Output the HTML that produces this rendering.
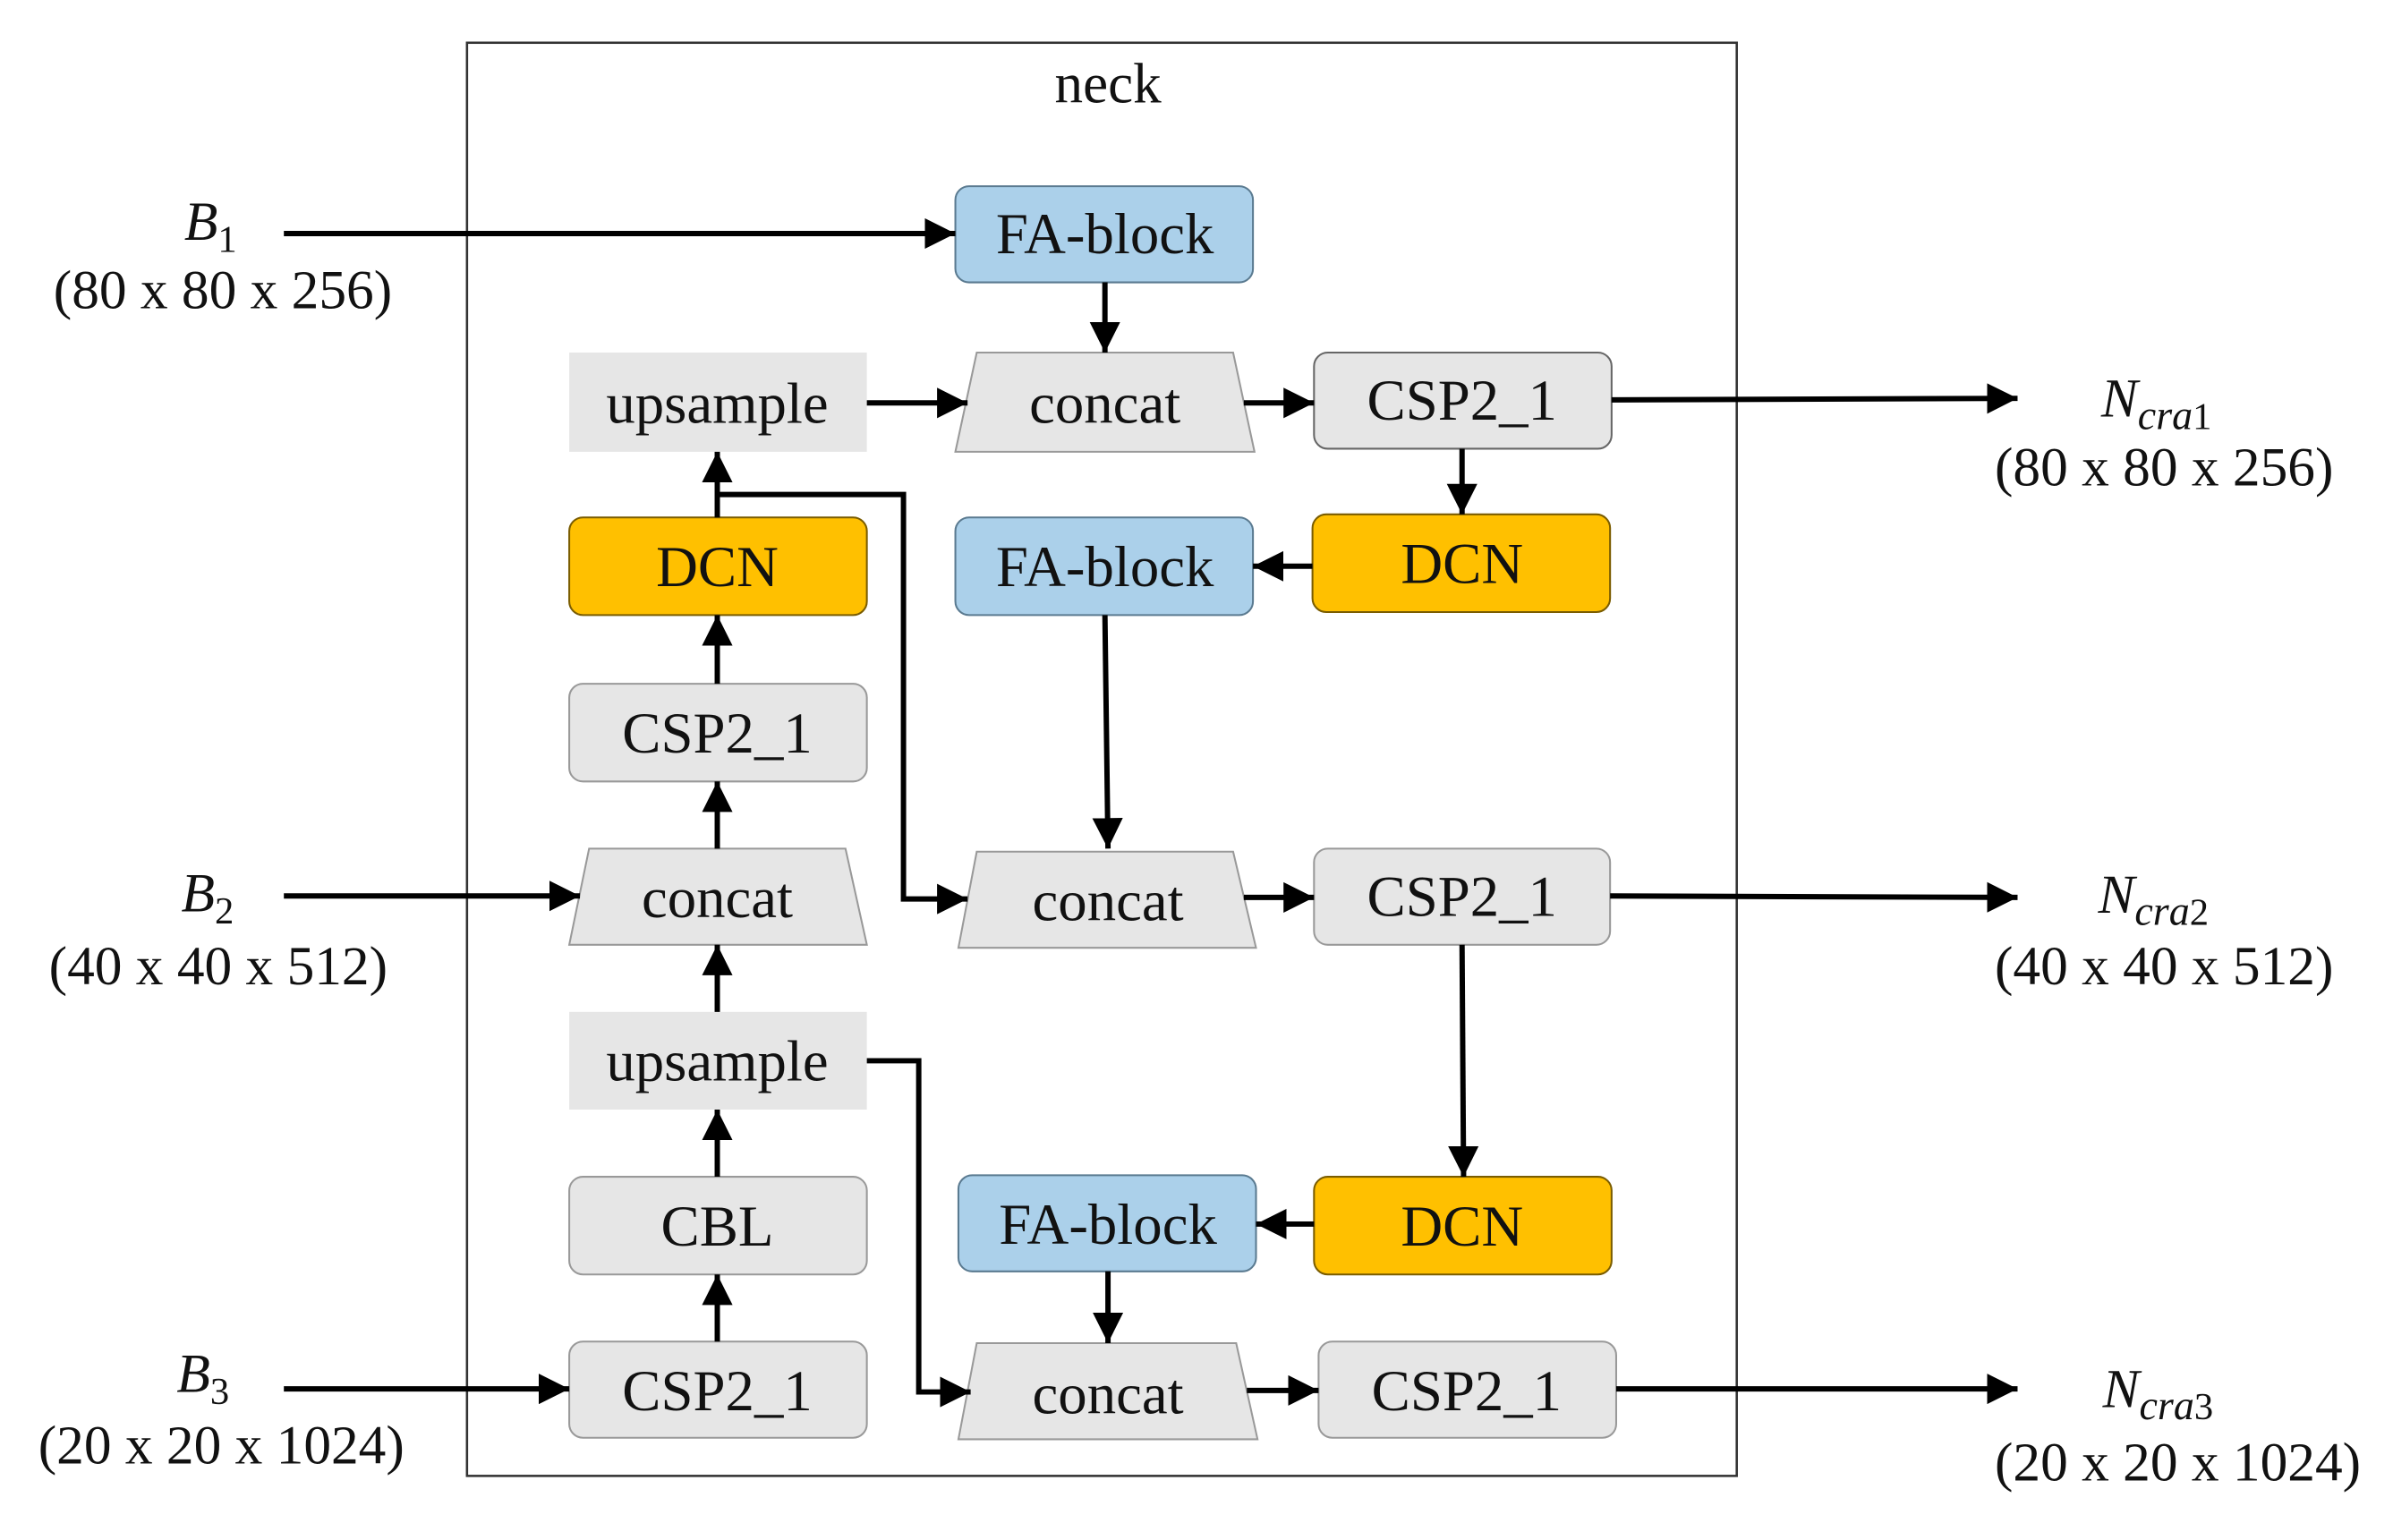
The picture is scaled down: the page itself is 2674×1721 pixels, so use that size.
<!DOCTYPE html>
<html><head><meta charset="utf-8"><style>
html,body{margin:0;padding:0;background:#fff;}
svg{display:block;}
text{font-family:"Liberation Serif",serif;fill:#111;}
</style></head><body>
<svg width="2674" height="1721" viewBox="0 0 1568 1009" preserveAspectRatio="none" xmlns="http://www.w3.org/2000/svg">
<defs>
<marker id="h" viewBox="0 0 10 10" refX="10" refY="5" markerWidth="20" markerHeight="20" markerUnits="userSpaceOnUse" orient="auto">
<path d="M0,0 L10,5 L0,10 z" fill="#000"/></marker>
</defs>
<rect x="306" y="28" width="832" height="939" fill="none" stroke="#333" stroke-width="1.5"/>
<text x="726" y="67" font-size="37" text-anchor="middle">neck</text>

<g stroke-width="1.2">
<rect x="626" y="122" width="195" height="63" rx="9" fill="#abd0ea" stroke="#5a7a90"/>
<rect x="626" y="339" width="195" height="64" rx="9" fill="#abd0ea" stroke="#5a7a90"/>
<rect x="628" y="770" width="195" height="63" rx="9" fill="#abd0ea" stroke="#5a7a90"/>
<rect x="373" y="339" width="195" height="64" rx="9" fill="#ffc000" stroke="#7a5c00"/>
<rect x="860" y="337" width="195" height="64" rx="9" fill="#ffc000" stroke="#7a5c00"/>
<rect x="861" y="771" width="195" height="64" rx="9" fill="#ffc000" stroke="#7a5c00"/>
<rect x="861" y="231" width="195" height="63" rx="9" fill="#e6e6e6" stroke="#666"/>
<rect x="373" y="448" width="195" height="64" rx="9" fill="#e6e6e6" stroke="#999"/>
<rect x="861" y="556" width="194" height="63" rx="9" fill="#e6e6e6" stroke="#999"/>
<rect x="373" y="771" width="195" height="64" rx="9" fill="#e6e6e6" stroke="#999"/>
<rect x="373" y="879" width="195" height="63" rx="9" fill="#e6e6e6" stroke="#999"/>
<rect x="864" y="879" width="195" height="63" rx="9" fill="#e6e6e6" stroke="#999"/>
<rect x="373" y="231" width="195" height="65" fill="#e6e6e6"/>
<rect x="373" y="663" width="195" height="64" fill="#e6e6e6"/>
<polygon points="640,231 808,231 822,296 626,296" fill="#e6e6e6" stroke="#999"/>
<polygon points="386,556 554,556 568,619 373,619" fill="#e6e6e6" stroke="#999"/>
<polygon points="640,558 808,558 823,621 628,621" fill="#e6e6e6" stroke="#999"/>
<polygon points="640,880 810,880 824,943 628,943" fill="#e6e6e6" stroke="#999"/>
</g>

<g font-size="38" text-anchor="middle">
<text x="724" y="166">FA-block</text>
<text x="470" y="277">upsample</text>
<text x="724" y="277">concat</text>
<text x="958" y="275">CSP2_1</text>
<text x="470" y="384">DCN</text>
<text x="724" y="384">FA-block</text>
<text x="958" y="382">DCN</text>
<text x="470" y="493">CSP2_1</text>
<text x="470" y="601">concat</text>
<text x="726" y="603">concat</text>
<text x="958" y="600">CSP2_1</text>
<text x="470" y="708">upsample</text>
<text x="470" y="816">CBL</text>
<text x="726" y="815">FA-block</text>
<text x="958" y="816">DCN</text>
<text x="470" y="924">CSP2_1</text>
<text x="726" y="926">concat</text>
<text x="961" y="924">CSP2_1</text>
</g>

<g stroke="#000" stroke-width="3.5" fill="none" marker-end="url(#h)">
<line x1="186" y1="153" x2="626" y2="153"/>
<line x1="724" y1="185" x2="724" y2="231"/>
<line x1="568" y1="264" x2="634" y2="264"/>
<line x1="815" y1="264" x2="861" y2="264"/>
<line x1="1056" y1="262" x2="1322" y2="261"/>
<line x1="958" y1="294" x2="958" y2="337"/>
<line x1="860" y1="371" x2="821" y2="371"/>
<line x1="724" y1="403" x2="726" y2="556"/>
<line x1="470" y1="339" x2="470" y2="296"/>
<polyline points="470,324 592,324 592,589 634,589"/>
<line x1="470" y1="448" x2="470" y2="403"/>
<line x1="470" y1="556" x2="470" y2="512"/>
<line x1="186" y1="587" x2="380" y2="587"/>
<line x1="815" y1="588" x2="861" y2="588"/>
<line x1="1055" y1="587" x2="1322" y2="588"/>
<line x1="958" y1="619" x2="959" y2="771"/>
<line x1="470" y1="663" x2="470" y2="619"/>
<polyline points="568,695 602,695 602,912 636,912"/>
<line x1="470" y1="771" x2="470" y2="727"/>
<line x1="470" y1="879" x2="470" y2="835"/>
<line x1="186" y1="910" x2="373" y2="910"/>
<line x1="861" y1="802" x2="823" y2="802"/>
<line x1="726" y1="833" x2="726" y2="880"/>
<line x1="817" y1="911" x2="864" y2="911"/>
<line x1="1059" y1="910" x2="1322" y2="910"/>
</g>

<g font-size="36" text-anchor="middle">
<text x="138" y="157" font-style="italic">B<tspan font-size="25" font-style="normal" dy="8">1</tspan></text>
<text x="146" y="202">(80 x 80 x 256)</text>
<text x="136" y="597" font-style="italic">B<tspan font-size="25" font-style="normal" dy="8">2</tspan></text>
<text x="143" y="645">(40 x 40 x 512)</text>
<text x="133" y="912" font-style="italic">B<tspan font-size="25" font-style="normal" dy="8">3</tspan></text>
<text x="145" y="959">(20 x 20 x 1024)</text>
<text x="1413" y="273" font-style="italic">N<tspan font-size="27" dy="8">cra</tspan><tspan font-size="25" font-style="normal">1</tspan></text>
<text x="1418" y="318">(80 x 80 x 256)</text>
<text x="1411" y="598" font-style="italic">N<tspan font-size="27" dy="8">cra</tspan><tspan font-size="25" font-style="normal">2</tspan></text>
<text x="1418" y="645">(40 x 40 x 512)</text>
<text x="1414" y="922" font-style="italic">N<tspan font-size="27" dy="8">cra</tspan><tspan font-size="25" font-style="normal">3</tspan></text>
<text x="1427" y="970">(20 x 20 x 1024)</text>
</g>
</svg>
</body></html>
